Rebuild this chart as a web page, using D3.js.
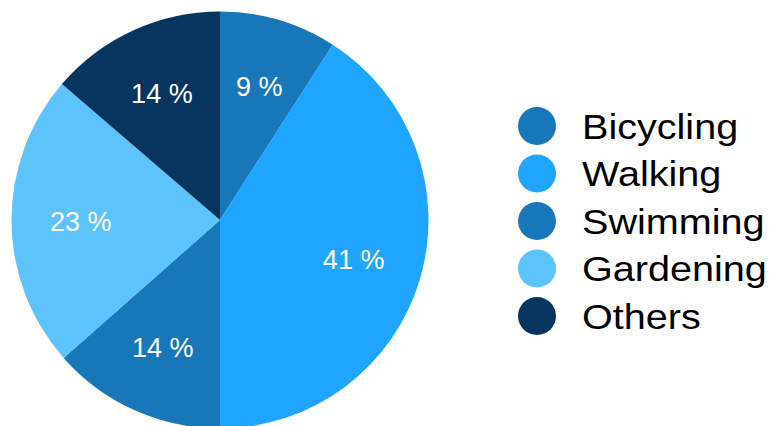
<!DOCTYPE html>
<html>
<head>
<meta charset="utf-8">
<script src="https://cdn.jsdelivr.net/npm/d3@7"></script>
<style>
  html, body { margin: 0; padding: 0; background: #ffffff; }
  svg { display: block; font-family: "Liberation Sans", Arial, sans-serif; }
</style>
</head>
<body>
<svg id="chart" width="773" height="426"></svg>
<script>
// Share of time spent per activity (percent)
const activities = ["Bicycling", "Walking", "Swimming", "Gardening", "Others"];
const shares = [9.1, 40.9, 13.5, 22.8, 13.7];
const sliceColors = ["#1777b8", "#1fa5fd", "#1777b8", "#5dc3fc", "#07355f"];

const svg = d3.select("#chart");
const cx = 220, cy = 220, radius = 208.5;

const data = activities.map((name, i) => ({ name, value: shares[i], color: sliceColors[i] }));

const pie = d3.pie().value(d => d.value).sort(null);
const arc = d3.arc().innerRadius(0).outerRadius(radius);
const labelR = radius * 0.668;
const labelArc = d3.arc().innerRadius(labelR).outerRadius(labelR);

const g = svg.append("g").attr("transform", `translate(${cx},${cy})`);
const arcs = pie(data);

g.selectAll("path.slice")
  .data(arcs)
  .join("path")
  .attr("class", "slice")
  .attr("d", arc)
  .attr("fill", d => d.data.color);

g.selectAll("text.pct")
  .data(arcs)
  .join("text")
  .attr("class", "pct")
  .attr("transform", d => `translate(${labelArc.centroid(d)})`)
  .attr("text-anchor", "middle")
  .attr("dy", "0.36em")
  .attr("fill", "#ffffff")
  .style("font-size", "27px")
  .text(d => `${Math.round(d.data.value)} %`);

// Legend
const legendY = d3.scalePoint().domain(activities).range([126, 316]);
const legend = svg.append("g");
const rows = legend.selectAll("g.row")
  .data(data)
  .join("g")
  .attr("class", "row")
  .attr("transform", d => `translate(537,${legendY(d.name)})`);

rows.append("circle")
  .attr("r", 19)
  .attr("fill", d => d.color);

rows.append("text")
  .attr("transform", "translate(45,0) scale(1.1,1)")
  .attr("dy", "0.36em")
  .attr("fill", "#000000")
  .style("font-size", "36px")
  .text(d => d.name);
</script>
</body>
</html>
